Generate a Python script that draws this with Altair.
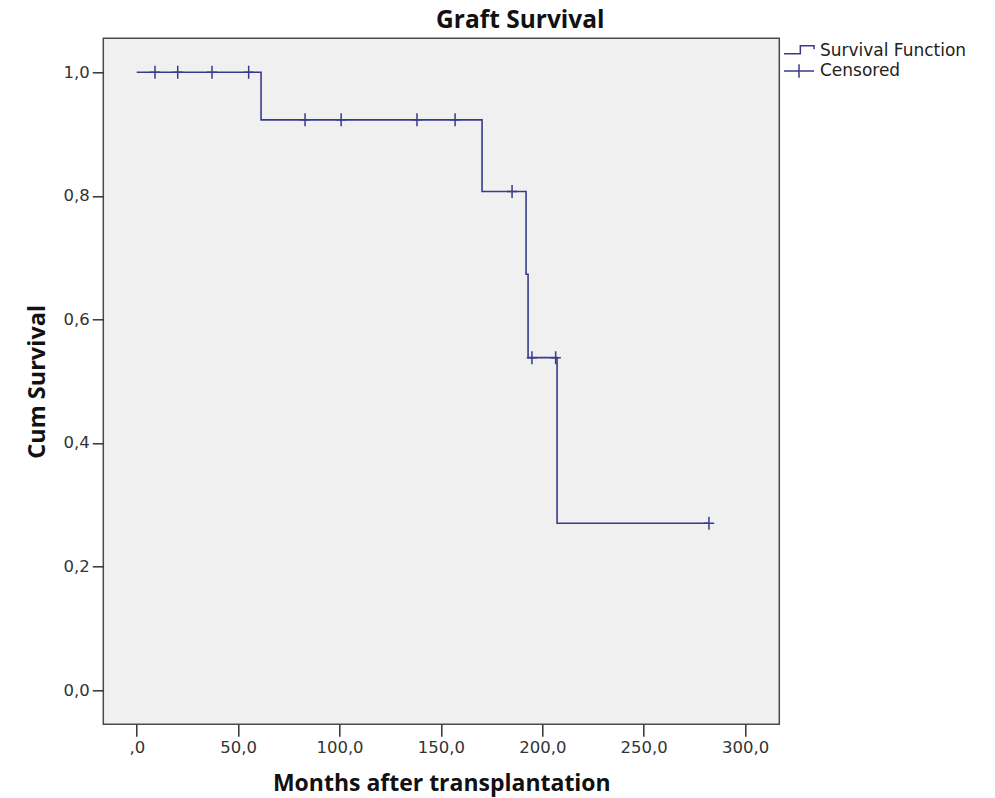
import altair as alt
import pandas as pd

# Step function (Kaplan-Meier) values
step_months = [0, 61.3, 170.3, 192.0, 193.0, 207.3, 282.2]
step_surv = [1.0, 0.923, 0.807, 0.673, 0.538, 0.270, 0.270]

# Censored observations
cens_months = [9.0, 20.2, 37.1, 55.2, 83.0, 100.8, 138.2, 157.0, 185.1, 194.9, 206.6, 282.2]
cens_surv = [1.0, 1.0, 1.0, 1.0, 0.923, 0.923, 0.923, 0.923, 0.807, 0.538, 0.538, 0.270]

x_ticks = [0, 50, 100, 150, 200, 250, 300]
y_ticks = [0.0, 0.2, 0.4, 0.6, 0.8, 1.0]
legend_names = ["Survival Function", "Censored"]

LINE = "#383b8c"
LABEL_FONT = "DejaVu Sans"
TITLE_FONT = "Open Sans"

step_df = pd.DataFrame({"months": step_months, "surv": step_surv})
cens_df = pd.DataFrame({"months": cens_months, "surv": cens_surv,
                        "series": ["Censored"] * len(cens_months)})

PLUS_PATH = "M0,-1V1M-0.8,0H0.8"
LEG_STEP = "M-1.67,0.3H0.15V-0.59H1.67V-0.19"
LEG_PLUS = "M-1.67,0H1.67M0,-0.74V0.74"

x_scale = alt.Scale(domain=[-16.5, 316.9], nice=False, zero=False)
y_scale = alt.Scale(domain=[-0.0555, 1.055], nice=False, zero=False)

x_axis = alt.Axis(
    title="Months after transplantation", values=x_ticks,
    labelExpr="datum.value == 0 ? ',0' : replace(format(datum.value, '.1f'), '.', ',')",
    grid=False, domain=False, tickSize=12, tickWidth=1.5, tickColor="#333333",
    labelFont=LABEL_FONT, labelFontSize=16.5, labelColor="#333333", labelPadding=3,
    titleFont=TITLE_FONT, titleFontSize=23, titleFontWeight="bold", titleColor="#111111",
    titlePadding=17,
)
y_axis = alt.Axis(
    title="Cum Survival", values=y_ticks,
    labelExpr="replace(format(datum.value, '.1f'), '.', ',')",
    grid=False, domain=False, tickSize=11, tickWidth=1.5, tickColor="#333333",
    labelFont=LABEL_FONT, labelFontSize=16.5, labelColor="#333333", labelPadding=3,
    titleFont=TITLE_FONT, titleFontSize=23.5, titleFontWeight="bold", titleColor="#111111",
    titlePadding=14,
)

line = alt.Chart(step_df).mark_line(interpolate="step-after", color=LINE, strokeWidth=1.6).encode(
    x=alt.X("months:Q", scale=x_scale, axis=x_axis),
    y=alt.Y("surv:Q", scale=y_scale, axis=y_axis),
)

cens = alt.Chart(cens_df).mark_point(shape=PLUS_PATH, size=169, filled=False, color=LINE,
                                     strokeWidth=1.5, opacity=1).encode(
    x="months:Q", y="surv:Q",
)

legend_layer = alt.Chart(cens_df).mark_point(filled=False, color=LINE, opacity=0, strokeWidth=1.5).encode(
    x="months:Q", y="surv:Q",
    shape=alt.Shape("series:N",
                    scale=alt.Scale(domain=legend_names, range=[LEG_STEP, LEG_PLUS]),
                    legend=alt.Legend(title=None, orient="none", legendX=685.7, legendY=2.7,
                                      symbolSize=324, symbolStrokeWidth=1.5,
                                      symbolStrokeColor=LINE, symbolOpacity=1,
                                      labelFont=LABEL_FONT, labelFontSize=17,
                                      labelColor="#222222", labelOffset=11,
                                      rowPadding=2, padding=0)),
)

chart = alt.layer(line, cens, legend_layer).properties(
    width=676, height=686,
    title=alt.Title("Graft Survival", font=TITLE_FONT, fontSize=24.5, fontWeight="bold",
                    color="#111111", anchor="middle", dx=79, offset=5),
    autosize=alt.AutoSizeParams(type="none"),
    padding={"left": 95.3, "top": 30.3, "right": 207, "bottom": 73},
).configure(
    background="white",
    view=alt.ViewConfig(fill="#f0f0f0", stroke="#4a4a4a", strokeWidth=1.5),
)

chart.save("out.html", embed_options={"renderer": "svg", "actions": False})
